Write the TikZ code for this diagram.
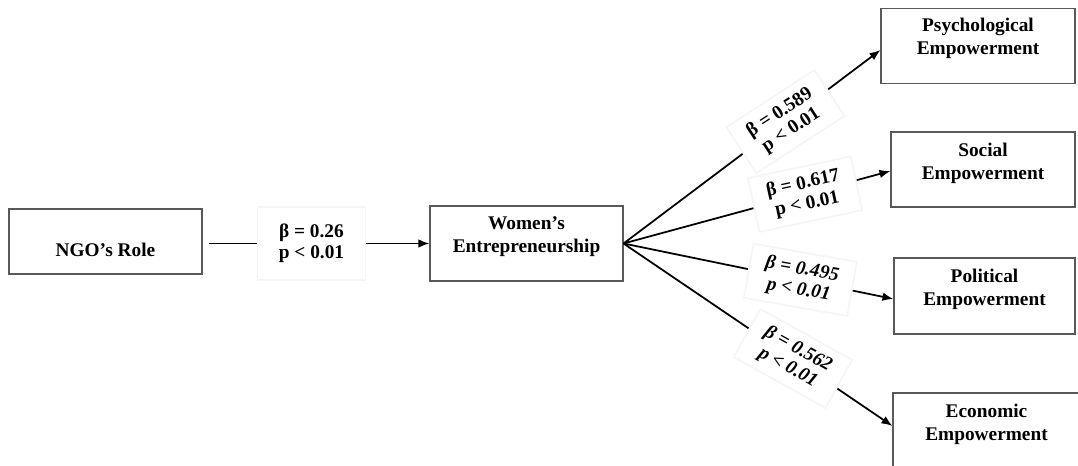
\documentclass[tikz,border=0pt]{standalone}
\usepackage{fontspec}
\setmainfont{Liberation Serif}
\usepackage{tikz}
\usetikzlibrary{arrows.meta}

\tikzset{
  box/.style={draw=black!65,line width=0.6pt,minimum width=3.86cm,minimum height=1.5cm,inner sep=0pt},
  boxtext/.style={align=center,inner sep=0pt,font=\fontsize{11}{13.2}\selectfont\bfseries},
  lab/.style={fill=white,draw=black!4,align=center,minimum width=2.1cm,minimum height=1.1cm,inner sep=1pt,font=\fontsize{11}{11.8}\selectfont\bfseries},
  link/.style={black,line width=1pt,-{Latex[length=2.2mm,width=1.7mm]}}
}

\begin{document}
\begin{tikzpicture}[x=0.2mm,y=-0.2mm]
\useasboundingbox (0,0) rectangle (1078,466);
\node[box,minimum width=3.86cm,minimum height=1.3cm] (ngo) at (105.5,241.5) {};
\node[boxtext] (ngot) at (105.5,250) {NGO’s Role};
\node[box] (wom) at (526.5,243.5) {};
\node[boxtext] (womt) at (526.5,236.5) {Women’s\\Entrepreneurship};
\node[box,minimum width=3.88cm] (psy) at (978,46) {};
\node[boxtext] (psyt) at (978,38.5) {Psychological\\Empowerment};
\node[box,minimum width=3.68cm] (soc) at (983,169.5) {};
\node[boxtext] (soct) at (983,163.5) {Social\\Empowerment};
\node[box,minimum width=3.62cm,minimum height=1.52cm] (pol) at (984.5,296) {};
\node[boxtext] (polt) at (984.5,289.5) {Political\\Empowerment};
\node[box,minimum width=3.74cm,minimum height=1.54cm] (eco) at (986.5,431.5) {};
\node[boxtext] (ecot) at (986.5,424) {Economic\\Empowerment};
\draw[link,shorten <=1.2mm] (ngo.east |- wom.west) -- node[lab,pos=0.48,minimum width=2.16cm,minimum height=1.45cm] (l1) {β = 0.26\\p < 0.01} (wom.west);
\draw[link] (wom.east) -- node[lab,pos=0.63,rotate=33] (l2) {β = 0.589\\p < 0.01} ([yshift=-0.8mm]psy.west);
\draw[link] (wom.east) -- node[lab,pos=0.68,rotate=12] (l3) {β = 0.617\\p < 0.01} ([yshift=-0.3mm]soc.west);
\draw[link] (wom.east) -- node[lab,pos=0.655,rotate=-10,font=\fontsize{11}{11.8}\selectfont\bfseries\itshape] (l4) {β = 0.495\\p < 0.01} ([yshift=-0.6mm]pol.west);
\draw[link] (wom.east) -- node[lab,pos=0.63,rotate=-29,font=\fontsize{11}{11.8}\selectfont\bfseries\itshape] (l5) {β = 0.562\\p < 0.01} ([yshift=1.1mm]eco.west);
\end{tikzpicture}
\end{document}
